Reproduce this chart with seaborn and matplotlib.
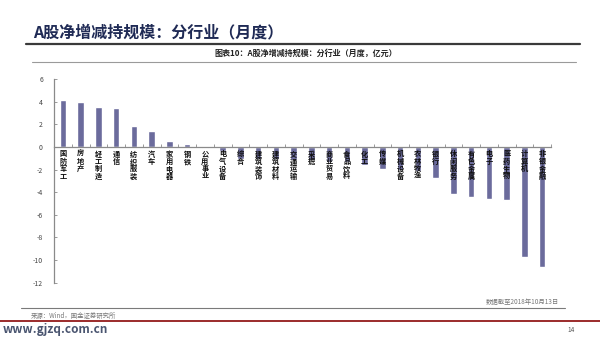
import matplotlib
matplotlib.use("Agg")
import matplotlib.pyplot as plt
import seaborn as sns
import pandas as pd
from matplotlib.ticker import FixedLocator

industries = ["国防军工", "房地产", "轻工制造", "通信", "纺织服装", "汽车", "家用电器", "钢铁",
              "公用事业", "电气设备", "综合", "建筑装饰", "建筑材料", "交通运输", "采掘",
              "商业贸易", "食品饮料", "化工", "传媒", "机械设备", "农林牧渔", "银行",
              "休闲服务", "有色金属", "电子", "医药生物", "计算机", "非银金融"]
net_change = [4.15, 3.95, 3.5, 3.4, 1.85, 1.4, 0.5, 0.3,
              -0.1, -0.38, -1.03, -1.1, -1.1, -1.18, -1.18,
              -1.32, -1.32, -1.62, -1.95, -2.05, -2.15, -2.75,
              -4.15, -4.4, -4.6, -4.65, -9.7, -10.65]
y_ticks = [6, 4, 2, 0, -2, -4, -6, -8, -10, -12]

title = "A股净增减持规模：分行业（月度）"
subtitle = "图表10：A股净增减持规模：分行业（月度，亿元）"
source = "来源：Wind，国金证券研究所"
date_note = "数据截至2018年10月13日"
site = "www.gjzq.com.cn"
page = "14"

sns.set_theme(style="white")
plt.rcParams["font.family"] = ["Noto Sans CJK SC", "DejaVu Sans"]

df = pd.DataFrame({"industry": industries, "value": net_change})

fig = plt.figure(figsize=(6, 3.38), dpi=100)
W, H = 600, 338
ax = fig.add_axes([54 / W, 1 - 282.7 / H, (551 - 54) / W, (282.7 - 79) / H])

sns.barplot(data=df, x="industry", y="value", order=industries, color="#6B6B9C",
            saturation=1, width=0.38, ax=ax)

ax.set_xlim(-0.5, len(industries) - 0.5)
ax.set_ylim(-12, 6)
ax.set_yticks(y_ticks)
ax.set_yticklabels([str(t) for t in y_ticks])
ax.set_xlabel("")
ax.set_ylabel("")

for s in ["top", "right"]:
    ax.spines[s].set_visible(False)
ax.spines["left"].set_color("#8a8a8a")
ax.spines["left"].set_linewidth(0.9)
ax.spines["bottom"].set_position(("data", 0))
ax.spines["bottom"].set_color("#8a8a8a")
ax.spines["bottom"].set_linewidth(0.9)
ax.spines["bottom"].set_zorder(4)

ax.set_xticks(range(len(industries)))
ax.set_xticklabels([])
ax.xaxis.set_minor_locator(FixedLocator([i + 0.5 for i in range(len(industries))]))
ax.tick_params(axis="x", which="major", length=0)
ax.tick_params(axis="x", which="minor", direction="in", length=2.5, width=0.6,
               color="#8a8a8a", bottom=True)
ax.tick_params(axis="y", direction="in", length=2.5, width=0.6, color="#8a8a8a",
               labelsize=5, labelcolor="#444444", pad=8, left=True)

# category labels: vertical, one character per line, just below the zero line
for i, name in enumerate(industries):
    ax.annotate("\n".join(list(name)), xy=(i, 0), xytext=(0, -2.5),
                textcoords="offset points", ha="center", va="top",
                fontsize=5.2, fontweight="bold", color="#111111",
                linespacing=1.05, zorder=6, annotation_clip=False)

# page decoration
fig.text(33 / W, 1 - 32 / H, title, fontsize=11.5, fontweight="bold",
         color="#1F2A55", va="center", ha="left")
fig.add_artist(plt.Line2D([26 / W, 580 / W], [1 - 44 / H, 1 - 44 / H],
                          color="#3a3a3a", lw=1.6))
fig.text(306 / W, 1 - 53.5 / H, subtitle, fontsize=5.8, fontweight="bold",
         color="#222222", va="center", ha="center")
fig.add_artist(plt.Line2D([32 / W, 576 / W], [1 - 62 / H, 1 - 62 / H],
                          color="#9a9a9a", lw=0.8))

fig.text(559 / W, 1 - 302 / H, date_note, fontsize=4.6, style="italic",
         color="#777777", va="center", ha="right")
fig.add_artist(plt.Line2D([21 / W, 565 / W], [1 - 307.5 / H, 1 - 307.5 / H],
                          color="#7a7a7a", lw=0.8))
fig.text(31 / W, 1 - 316 / H, source, fontsize=4.6, style="italic",
         color="#777777", va="center", ha="left")
fig.add_artist(plt.Line2D([0, 1], [1 - 321 / H, 1 - 321 / H],
                          color="#9B2B2B", lw=1.4))
fig.text(3 / W, 1 - 330 / H, site, fontsize=8.5, fontweight="bold",
         color="#4A5570", va="center", ha="left")
fig.text(571 / W, 1 - 330 / H, page, fontsize=4.6, color="#555555",
         va="center", ha="center")

fig.savefig("out.png", dpi=100)
